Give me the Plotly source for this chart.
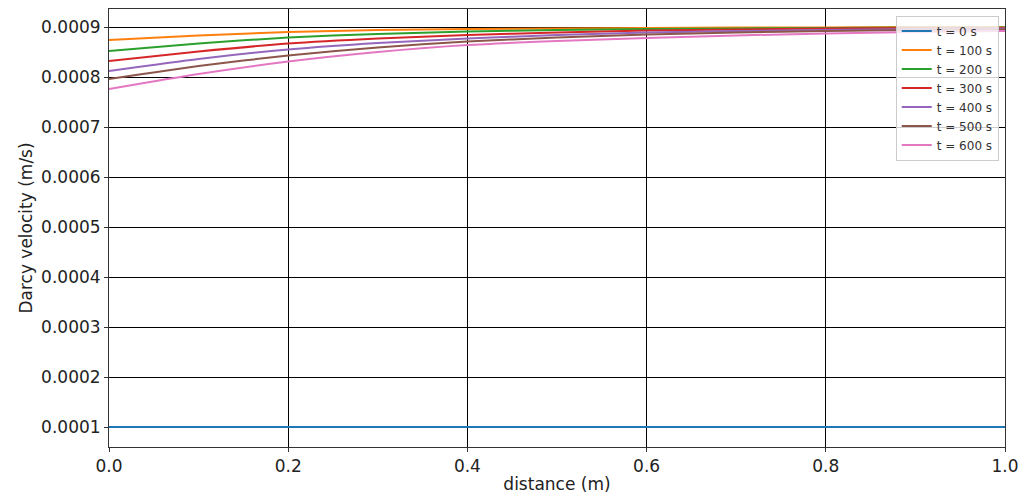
import plotly.graph_objects as go

distance = [0.0, 0.1, 0.2, 0.3, 0.4, 0.5, 0.6, 0.7, 0.8, 0.9, 1.0]
labels = ["t = 0 s", "t = 100 s", "t = 200 s", "t = 300 s", "t = 400 s", "t = 500 s", "t = 600 s"]
v_t0 = [0.0001] * 11
v_t100 = [0.000874, 0.000883, 0.000890, 0.000894, 0.000896, 0.000897, 0.000898, 0.000899, 0.000899, 0.000900, 0.000900]
v_t200 = [0.000852, 0.000867, 0.000879, 0.000886, 0.000891, 0.000894, 0.000896, 0.000897, 0.000898, 0.000899, 0.000899]
v_t300 = [0.000832, 0.000851, 0.000867, 0.000877, 0.000884, 0.000889, 0.000893, 0.000895, 0.000897, 0.000898, 0.000898]
v_t400 = [0.000812, 0.000836, 0.000855, 0.000868, 0.000877, 0.000884, 0.000889, 0.000892, 0.000894, 0.000896, 0.000897]
v_t500 = [0.000796, 0.000822, 0.000843, 0.000859, 0.000871, 0.000879, 0.000885, 0.000889, 0.000892, 0.000894, 0.000895]
v_t600 = [0.000776, 0.000806, 0.000831, 0.000850, 0.000864, 0.000872, 0.000878, 0.000883, 0.000887, 0.000890, 0.000892]
series = [v_t0, v_t100, v_t200, v_t300, v_t400, v_t500, v_t600]
colors = ["#1f77b4", "#ff7f0e", "#2ca02c", "#d62728", "#9467bd", "#8c564b", "#e377c2"]

y_ticks = [0.0001, 0.0002, 0.0003, 0.0004, 0.0005, 0.0006, 0.0007, 0.0008, 0.0009]
x_ticks = [0.0, 0.2, 0.4, 0.6, 0.8, 1.0]

fig = go.Figure()
for lab, vals, col in zip(labels, series, colors):
    fig.add_trace(go.Scatter(x=distance, y=vals, mode="lines", name=lab,
                             line=dict(color=col, width=2, shape="spline", smoothing=0.6)))

font = "DejaVu Sans, sans-serif"
fig.update_layout(
    width=1024, height=504,
    margin=dict(l=109, r=19, t=9, b=57),
    paper_bgcolor="white", plot_bgcolor="white",
    font=dict(family=font, size=17, color="#222"),
    showlegend=True,
    legend=dict(x=0.993, y=0.985, xanchor="right", yanchor="top",
                bgcolor="rgba(255,255,255,0.8)", bordercolor="#cccccc", borderwidth=1,
                font=dict(size=12, family=font, color="#333"),
                tracegroupgap=0, itemwidth=30),
    xaxis=dict(range=[0, 1], tickvals=x_ticks, ticktext=[f"{v:.1f}" for v in x_ticks],
               showgrid=True, gridcolor="black", gridwidth=1,
               showline=True, linecolor="#333", linewidth=1, mirror=True,
               ticks="outside", ticklen=4, tickcolor="#333", zeroline=False,
               tickfont=dict(size=17), automargin=False,
               title=dict(text="distance (m)", font=dict(size=17), standoff=2)),
    yaxis=dict(range=[0.00006, 0.000936], tickvals=y_ticks, ticktext=[f"{v:.4f}" for v in y_ticks],
               showgrid=True, gridcolor="black", gridwidth=1,
               showline=True, linecolor="#333", linewidth=1, mirror=True,
               ticks="outside", ticklen=4, tickcolor="#333", zeroline=False,
               tickfont=dict(size=17), automargin=False,
               title=dict(text="Darcy velocity (m/s)", font=dict(size=17), standoff=4)),
)
fig.write_html("out.html")
